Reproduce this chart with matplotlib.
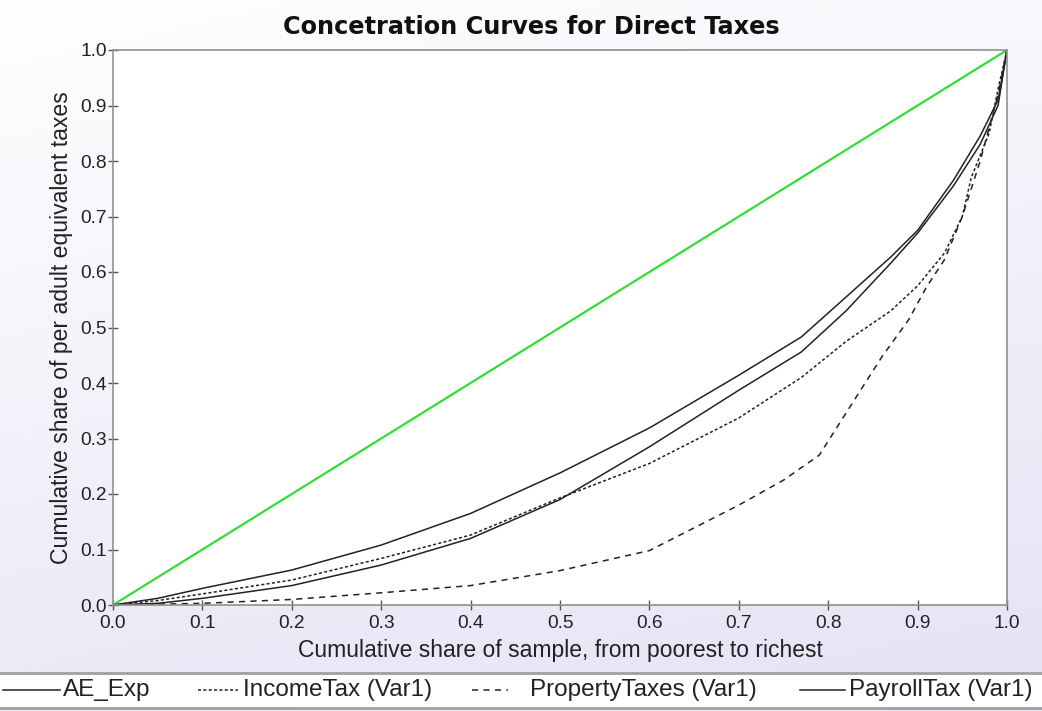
import numpy as np
import matplotlib
matplotlib.use('Agg')
import matplotlib.pyplot as plt
from matplotlib.lines import Line2D

# values
x_ae = [0.0, 0.05, 0.1, 0.2, 0.3, 0.4, 0.5, 0.6, 0.7, 0.77, 0.82, 0.87, 0.9, 0.94, 0.97, 0.99, 1.0]
y_ae = [0.0, 0.012, 0.03, 0.063, 0.108, 0.165, 0.238, 0.319, 0.414, 0.483, 0.555, 0.627, 0.675, 0.765, 0.845, 0.91, 1.0]

x_inc = [0.0, 0.05, 0.1, 0.2, 0.3, 0.4, 0.5, 0.6, 0.7, 0.77, 0.82, 0.87, 0.9, 0.93, 0.95, 0.96, 0.98, 0.99, 1.0]
y_inc = [0.0, 0.008, 0.02, 0.045, 0.084, 0.126, 0.193, 0.255, 0.337, 0.41, 0.475, 0.53, 0.575, 0.634, 0.70, 0.77, 0.85, 0.93, 1.0]

x_prop = [0.0, 0.1, 0.2, 0.3, 0.4, 0.5, 0.6, 0.7, 0.75, 0.79, 0.82, 0.86, 0.89, 0.91, 0.93, 0.95, 0.97, 0.99, 1.0]
y_prop = [0.0, 0.003, 0.01, 0.022, 0.035, 0.062, 0.098, 0.18, 0.225, 0.27, 0.346, 0.447, 0.514, 0.573, 0.622, 0.70, 0.80, 0.92, 1.0]

x_pay = [0.0, 0.05, 0.1, 0.2, 0.3, 0.4, 0.5, 0.6, 0.7, 0.77, 0.82, 0.87, 0.9, 0.94, 0.97, 0.99, 1.0]
y_pay = [0.0, 0.003, 0.012, 0.035, 0.072, 0.12, 0.19, 0.285, 0.387, 0.456, 0.53, 0.616, 0.67, 0.755, 0.83, 0.90, 1.0]

ticks = [round(0.1 * i, 1) for i in range(11)]
names = ['AE_Exp', 'IncomeTax (Var1)', 'PropertyTaxes (Var1)', 'PayrollTax (Var1)']
styles = ['-', (0, (2, 1.5)), (0, (4, 3.5)), '-']

W, H = 1042, 711
fig = plt.figure(figsize=(W / 100, H / 100), dpi=100)
plt.rcParams['font.family'] = ['Liberation Sans', 'DejaVu Sans']

# gradient background, white top-left to lavender bottom-right
bg = fig.add_axes([0, 0, 1, 1], zorder=-5)
gy, gx = np.mgrid[0:1:200j, 0:1:300j]
t = np.clip(0.75 * gy + 0.25 * gx, 0, 1)
top = np.array([1.0, 1.0, 1.0])
bot = np.array([0.89, 0.89, 0.96])
img = top[None, None, :] * (1 - t[..., None]) + bot[None, None, :] * t[..., None]
bg.imshow(img, aspect='auto', extent=[0, 1, 1, 0])
bg.axis('off')

# white legend band with gray rules
band = fig.add_axes([0, 3 / H, 1, 35 / H], zorder=-4)
band.set_facecolor('white')
band.set_xticks([])
band.set_yticks([])
for s in ['left', 'right']:
    band.spines[s].set_visible(False)
for s in ['top', 'bottom']:
    band.spines[s].set_color('#a0a0a0')
    band.spines[s].set_linewidth(2)

ax = fig.add_axes([113 / W, 1 - 605 / H, 894 / W, 555 / H])
ax.set_facecolor('white')
ax.plot([0, 1], [0, 1], color='#33dd33', lw=1.6)
series = [(x_ae, y_ae), (x_inc, y_inc), (x_prop, y_prop), (x_pay, y_pay)]
for (xs, ys), ls in zip(series, styles):
    ax.plot(xs, ys, color='#222222', lw=1.1, linestyle=ls)

ax.set_xlim(0, 1)
ax.set_ylim(0, 1)
ax.set_xticks(ticks)
ax.set_yticks(ticks)
ax.set_xticklabels([f'{v:.1f}' for v in ticks])
ax.set_yticklabels([f'{v:.1f}' for v in ticks])
ax.tick_params(direction='inout', length=7, width=1, colors='#555555',
               labelcolor='#222222', labelsize=13.8, pad=1)
ax.tick_params(axis='x', pad=4)
for s in ax.spines.values():
    s.set_color('#909090')
    s.set_linewidth(1.2)

ax.set_xlabel('Cumulative share of sample, from poorest to richest',
              fontsize=16.5, color='#222222', labelpad=5)
ax.set_ylabel('Cumulative share of per adult equivalent taxes',
              fontsize=16.6, color='#222222', labelpad=5)
fig.text(531 / W, 1 - 27 / H, 'Concetration Curves for Direct Taxes',
         ha='center', va='center', fontsize=17.3, fontweight='bold',
         family='DejaVu Sans', color='#111111')

# legend drawn along the band
starts = [3, 198, 472, 800]
lens = [57, 40, 36, 45]
gaps = [3, 5, 22, 4]
ly = 1 - 690 / H
for name, ls, x0, ln, gp in zip(names, styles, starts, lens, gaps):
    fig.add_artist(Line2D([x0 / W, (x0 + ln) / W], [ly, ly], color='#222222',
                          lw=1.1, linestyle=ls))
    fig.text((x0 + ln + gp) / W, ly, name, ha='left', va='center',
             fontsize=17.5, color='#222222')

fig.savefig('out.png', dpi=100)
